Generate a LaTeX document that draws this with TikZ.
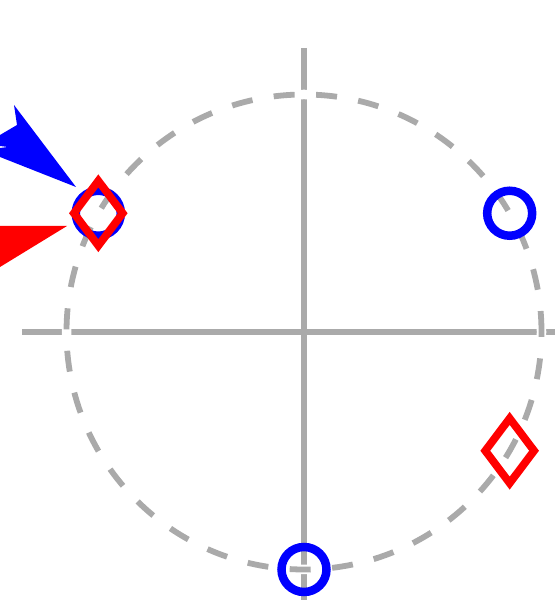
\documentclass[tikz,border=0pt]{standalone}
\usetikzlibrary{shapes.geometric}
\definecolor{axgray}{RGB}{170,170,170}
\tikzset{
  axisline/.style={draw=axgray, line width=6pt},
  unitcirc/.style={draw=axgray, line width=5.8pt, dash pattern=on 21pt off 21.5pt,
    preaction={draw=white, line width=9.5pt, solid}},
  bluemark/.style={circle, draw=blue, line width=8.5pt, minimum size=45pt, inner sep=0pt},
  redmark/.style={diamond, draw=red, line width=7.8pt, minimum width=52pt, minimum height=68pt, inner sep=0pt, aspect=0.76},
}
\begin{document}
\begin{tikzpicture}[x=1pt,y=1pt]
\useasboundingbox (0,0) rectangle (555,600);
\coordinate (C) at (304,268);
% axes
\coordinate (xl) at (22,268);
\coordinate (xr) at (555,268);
\coordinate (yt) at (304,552);
\coordinate (yb) at (304,0);
\draw[axisline] (xl) -- (xr);
\draw[axisline] (yt) -- (yb);
% dashed unit circle
\draw[unitcirc] (C) circle[radius=237.5];
% markers
\node[bluemark] (b1) at ([shift={(150:237.5)}]C) {};
\node[bluemark] (b2) at ([shift={(30:237.5)}]C) {};
\node[bluemark] (b3) at ([shift={(270:237.5)}]C) {};
\node[redmark] (r1) at ([shift={(150:237.5)}]C) {};
\node[redmark] (r2) at ([shift={(-30:237.5)}]C) {};
% arrows (cut by the picture border)
\coordinate (bt) at (76,413);
\coordinate (rt) at (67,374);
\fill[blue] (bt) -- (14,495) -- (17,475) -- (0,465) -- (0,454) -- (8,453) -- (0,452) -- (0,443) -- cycle;
\fill[red] (rt) -- (0,374) -- (0,333) -- cycle;
\end{tikzpicture}
\end{document}
